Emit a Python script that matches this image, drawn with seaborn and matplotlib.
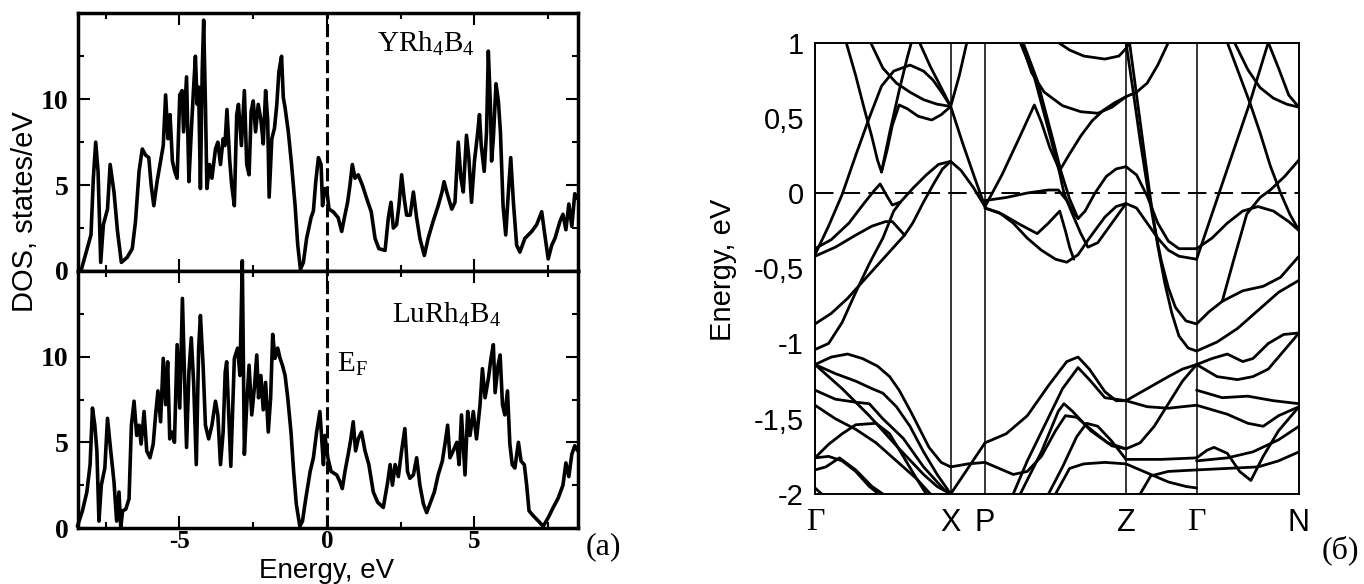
import numpy as np
import pandas as pd
import matplotlib
matplotlib.use("Agg")
import matplotlib.pyplot as plt
import seaborn as sns

sns.set_style("ticks", rc={"axes.edgecolor": "black", "xtick.color": "black",
                           "ytick.color": "black", "text.color": "black",
                           "axes.labelcolor": "black"})
plt.rcParams["font.family"] = ["Liberation Sans", "DejaVu Sans"]
plt.rcParams["mathtext.fontset"] = "custom"
plt.rcParams["mathtext.rm"] = "Liberation Serif"
plt.rcParams["mathtext.it"] = "Liberation Serif:italic"

# ---------------- DOS data (energy in eV, DOS in states/eV) ----------------
energy_y = [-8.46, -8.34, -8.0, -7.92, -7.84, -7.76, -7.67, -7.58, -7.44, -7.35, -7.22, -7.1,
            -6.97, -6.77, -6.6, -6.49, -6.37, -6.26, -6.15, -6.04, -5.96, -5.87, -5.76, -5.64,
            -5.55, -5.47, -5.39, -5.32, -5.24, -5.16, -5.08, -4.99, -4.91, -4.86, -4.76, -4.68,
            -4.6, -4.53, -4.46, -4.4, -4.35, -4.29, -4.23, -4.18, -4.12, -4.07, -3.98, -3.9,
            -3.78, -3.7, -3.61, -3.52, -3.46, -3.39, -3.3, -3.23, -3.14, -3.06, -3.0, -2.9,
            -2.8, -2.72, -2.64, -2.57, -2.5, -2.42, -2.33, -2.24, -2.16, -2.08, -2.01, -1.96,
            -1.87, -1.78, -1.7, -1.63, -1.54, -1.48, -1.42, -1.31, -1.2, -1.08, -0.99, -0.9,
            -0.8, -0.69, -0.54, -0.46, -0.38, -0.29, -0.2, -0.15, -0.08, 0.0, 0.07, 0.21,
            0.38, 0.5, 0.59, 0.7, 0.78, 0.86, 0.95, 1.06, 1.2, 1.35, 1.5, 1.63,
            1.76, 1.97, 2.08, 2.17, 2.25, 2.36, 2.44, 2.53, 2.62, 2.7, 2.82, 2.93,
            3.04, 3.15, 3.3, 3.43, 3.6, 3.77, 3.9, 3.97, 4.06, 4.23, 4.34, 4.45,
            4.54, 4.62, 4.73, 4.81, 4.9, 5.0, 5.1, 5.17, 5.23, 5.33, 5.41, 5.47,
            5.54, 5.58, 5.64, 5.73, 5.81, 5.88, 5.97, 6.06, 6.15, 6.23, 6.32, 6.43,
            6.54, 6.71, 6.94, 7.11, 7.28, 7.37, 7.5, 7.62, 7.73, 7.9, 8.0, 8.1,
            8.2, 8.3, 8.4, 8.5]
dos_y = [0.0, 0.0, 2.1, 5.4, 7.5, 5.8, 0.5, 2.7, 3.6, 6.2, 4.6, 2.3,
         0.5, 0.8, 1.3, 2.9, 5.8, 7.1, 6.75, 6.6, 5.0, 3.8, 5.2, 6.4,
         7.3, 10.25, 7.7, 9.1, 6.4, 5.8, 5.4, 10.25, 10.5, 8.1, 11.3, 5.2,
         8.1, 10.4, 12.5, 9.7, 10.7, 4.8, 11.6, 14.6, 9.7, 4.8, 6.2, 5.4,
         7.1, 7.5, 6.2, 7.7, 7.3, 9.4, 6.5, 5.0, 3.8, 9.1, 9.7, 7.3,
         10.5, 6.2, 5.6, 9.3, 9.9, 8.1, 9.7, 8.8, 7.4, 10.5, 8.8, 4.3,
         7.7, 8.3, 9.7, 11.6, 12.5, 10.1, 9.5, 8.1, 6.2, 3.8, 1.5, 0.1,
         0.5, 1.9, 3.1, 3.5, 5.2, 6.6, 6.2, 3.8, 4.8, 4.6, 3.6, 3.45,
         3.1, 2.3, 3.1, 4.0, 5.0, 6.2, 5.4, 5.6, 5.0, 4.2, 3.45, 1.9,
         1.3, 1.2, 3.1, 4.0, 2.5, 2.7, 3.8, 5.6, 4.2, 3.25, 3.25, 4.6,
         3.1, 1.9, 0.9, 1.9, 2.9, 3.8, 4.6, 5.2, 4.6, 3.6, 4.0, 7.5,
         5.4, 4.6, 7.9, 6.6, 4.0, 6.4, 7.9, 9.1, 7.3, 5.8, 8.1, 12.8,
         9.7, 6.4, 7.7, 10.9, 9.9, 8.1, 3.8, 2.1, 4.6, 6.6, 4.0, 1.5,
         1.1, 1.9, 2.3, 2.7, 3.45, 2.3, 0.7, 1.5, 1.9, 2.9, 3.3, 2.4,
         3.9, 2.6, 4.5, 4.2]

energy_lu = [-8.46, -8.29, -8.14, -8.03, -7.95, -7.87, -7.8, -7.73, -7.65, -7.53, -7.44, -7.33,
             -7.22, -7.13, -7.05, -6.99, -6.93, -6.82, -6.71, -6.63, -6.54, -6.45, -6.37, -6.3,
             -6.2, -6.11, -6.0, -5.89, -5.81, -5.73, -5.64, -5.55, -5.47, -5.4, -5.33, -5.25,
             -5.17, -5.08, -4.99, -4.9, -4.83, -4.76, -4.68, -4.6, -4.52, -4.43, -4.35, -4.29,
             -4.2, -4.12, -4.01, -3.9, -3.78, -3.7, -3.61, -3.52, -3.45, -3.4, -3.26, -3.14,
             -3.03, -2.95, -2.87, -2.8, -2.72, -2.64, -2.55, -2.46, -2.38, -2.32, -2.24, -2.16,
             -2.08, -1.99, -1.91, -1.84, -1.76, -1.67, -1.59, -1.51, -1.42, -1.33, -1.22, -1.13,
             -1.04, -0.92, -0.83, -0.72, -0.57, -0.46, -0.35, -0.24, -0.18, -0.12, -0.07, 0.03,
             0.14, 0.33, 0.44, 0.52, 0.61, 0.72, 0.81, 0.89, 0.97, 1.06, 1.17, 1.29,
             1.42, 1.57, 1.72, 1.91, 2.06, 2.14, 2.22, 2.31, 2.42, 2.53, 2.64, 2.73,
             2.81, 2.93, 3.04, 3.15, 3.27, 3.38, 3.49, 3.64, 3.77, 3.91, 4.0, 4.09,
             4.17, 4.28, 4.4, 4.48, 4.56, 4.68, 4.77, 4.85, 4.96, 5.07, 5.19, 5.27,
             5.36, 5.47, 5.56, 5.64, 5.7, 5.8, 5.87, 5.95, 6.03, 6.12, 6.2, 6.28,
             6.37, 6.49, 6.58, 6.69, 6.77, 6.85, 7.0, 7.17, 7.33, 7.5, 7.67, 7.84,
             8.0, 8.1, 8.2, 8.3, 8.4, 8.5]
dos_lu = [0.1, 1.0, 2.1, 3.7, 7.0, 6.0, 4.5, 0.4, 2.5, 3.5, 6.4, 4.5,
          2.7, 0.4, 2.1, 0.0, 1.0, 1.1, 1.7, 6.0, 7.4, 5.4, 6.0, 4.9,
          6.8, 4.5, 4.1, 4.9, 6.6, 8.0, 6.2, 9.9, 7.2, 9.7, 5.2, 5.6,
          5.0, 10.7, 7.0, 13.4, 8.9, 4.7, 9.1, 11.1, 8.5, 3.7, 10.5, 12.4,
          9.5, 6.0, 5.2, 6.0, 7.4, 6.6, 3.7, 5.6, 9.1, 9.7, 3.6, 9.9,
          10.5, 8.9, 15.6, 4.3, 7.2, 9.5, 6.6, 8.2, 10.1, 7.6, 8.9, 6.9,
          8.5, 5.6, 7.6, 11.3, 9.9, 10.5, 9.9, 9.5, 8.9, 7.6, 5.6, 3.3,
          1.4, 0.1, 0.4, 1.7, 3.3, 4.1, 5.6, 6.8, 5.2, 3.7, 5.4, 4.1,
          3.3, 3.1, 2.7, 2.3, 3.3, 4.3, 5.2, 6.2, 4.5, 5.2, 5.6, 4.5,
          3.7, 2.1, 1.5, 1.2, 2.7, 3.7, 2.5, 3.7, 3.0, 4.5, 5.8, 3.3,
          2.9, 3.1, 4.1, 2.5, 1.4, 0.9, 1.4, 2.1, 3.1, 3.9, 4.9, 6.0,
          4.1, 4.5, 5.0, 3.7, 6.6, 3.1, 6.8, 5.4, 6.8, 5.2, 7.2, 9.3,
          7.6, 8.7, 9.9, 10.7, 7.9, 9.5, 10.1, 7.2, 6.6, 8.0, 4.9, 3.7,
          3.5, 5.0, 3.9, 3.7, 2.5, 1.0, 0.7, 0.4, 0.1, 0.6, 1.2, 1.75,
          2.5, 3.8, 3.0, 4.3, 4.8, 4.5]

dos_xticks = [-5, 0, 5]
dos_xticklabels = ["-5", "0", "5"]
dos_yticks = [0, 5, 10]

# ---------------- band structure ----------------
kpath_labels = ["Γ", "X", "P", "Z", "Γ", "N"]
kpath_pos = [0.0, 1.357, 1.70, 3.11, 3.816, 4.84]
energy_ticks = [1, 0.5, 0, -0.5, -1, -1.5, -2]
energy_ticklabels = ["1", "0,5", "0", "-0,5", "-1", "-1,5", "-2"]

# each branch: (fraction along the path segment, energy in eV)
bands_gamma_x = [
    [(0, -0.41), (0.1, -0.22), (0.2, -0.01), (0.3, 0.25), (0.4, 0.5), (0.49, 0.71), (0.58, 0.81),
     (0.7, 0.85), (0.8, 0.81), (0.87, 0.75), (0.94, 0.66), (1, 0.575)],
    [(0.23, 1.0), (0.3, 0.78), (0.36, 0.57), (0.42, 0.37), (0.46, 0.22), (0.49, 0.14)],
    [(0.49, 0.14), (0.53, 0.28), (0.57, 0.45), (0.62, 0.585), (0.68, 0.56), (0.76, 0.51),
     (0.86, 0.485), (0.93, 0.52), (1, 0.575)],
    [(0.49, 0.14), (0.55, 0.4), (0.62, 0.68), (0.68, 0.9), (0.71, 1.0)],
    [(0.41, 1.0), (0.5, 0.83), (0.6, 0.73), (0.7, 0.67), (0.8, 0.62), (0.9, 0.59), (1, 0.575)],
    [(0.77, 1.0), (0.85, 0.84), (0.93, 0.7), (1, 0.575)],
    [(0, -0.37), (0.12, -0.31), (0.25, -0.2), (0.36, -0.07), (0.44, 0.02), (0.48, 0.06),
     (0.53, -0.02), (0.57, -0.08), (0.63, -0.06), (0.72, 0.03), (0.82, 0.12), (0.91, 0.19), (1, 0.21)],
    [(0, -0.42), (0.15, -0.36), (0.3, -0.28), (0.42, -0.22), (0.52, -0.19), (0.57, -0.19),
     (0.66, -0.28), (0.72, -0.2), (0.8, -0.06), (0.88, 0.07), (0.94, 0.16), (1, 0.21)],
    [(0, -0.87), (0.12, -0.8), (0.24, -0.7), (0.36, -0.58), (0.48, -0.46), (0.58, -0.36), (0.66, -0.28)],
    [(0, -1.04), (0.1, -1.0), (0.2, -0.86), (0.3, -0.66), (0.4, -0.47), (0.5, -0.3), (0.58, -0.12),
     (0.63, -0.06)],
    [(0, -1.14), (0.12, -1.09), (0.24, -1.07), (0.35, -1.1), (0.46, -1.15), (0.55, -1.22),
     (0.62, -1.31), (0.71, -1.46), (0.84, -1.69), (0.93, -1.79), (1, -1.82)],
    [(0, -1.14), (0.15, -1.2), (0.3, -1.25), (0.42, -1.3), (0.5, -1.33), (0.6, -1.42), (0.7, -1.55),
     (0.8, -1.72), (0.9, -1.87), (1, -2.0)],
    [(0, -1.14), (0.2, -1.3), (0.4, -1.48), (0.6, -1.68), (0.8, -1.87), (0.9, -1.95), (1, -2.0)],
    [(0, -1.31), (0.15, -1.37), (0.3, -1.39), (0.4, -1.4), (0.5, -1.5), (0.65, -1.63), (0.8, -1.82),
     (0.95, -1.97), (1, -2.0)],
    [(0, -1.41), (0.15, -1.5), (0.3, -1.57), (0.45, -1.66), (0.6, -1.78), (0.75, -1.9), (0.85, -2.0)],
    [(0, -1.76), (0.1, -1.67), (0.2, -1.6), (0.3, -1.54), (0.45, -1.53), (0.55, -1.6), (0.65, -1.75),
     (0.75, -1.9), (0.82, -2.0)],
    [(0, -1.76), (0.1, -1.75), (0.2, -1.78), (0.3, -1.85), (0.4, -1.95), (0.47, -2.0)],
    [(0, -1.84), (0.08, -1.82), (0.18, -1.76), (0.3, -1.84), (0.42, -1.95), (0.5, -2.0)],
    [(0, -1.96), (0.05, -2.0)],
]
bands_x_p = [
    [(0, 0.575), (0.25, 0.78), (0.47, 1.0)],
    [(0, 0.575), (0.35, 0.33), (0.7, 0.1), (1, -0.09)],
    [(0, 0.21), (0.3, 0.15), (0.65, 0.04), (1, -0.09)],
    [(0, -1.82), (0.5, -1.8), (1, -1.79)],
    [(0, -2.0), (0.5, -1.83), (1, -1.66)],
]
bands_p_z = [
    [(0, -0.09), (0.12, 0.12), (0.24, 0.36), (0.35, 0.585), (0.4, 0.47), (0.46, 0.3), (0.53, 0.15),
     (0.6, 0.26), (0.68, 0.38), (0.76, 0.48), (0.84, 0.55), (0.92, 0.6), (1, 0.64)],
    [(0.26, 1.0), (0.33, 0.8), (0.42, 0.67), (0.55, 0.58), (0.68, 0.54), (0.8, 0.53), (0.9, 0.57),
     (1, 0.64)],
    [(0.25, 1.0), (0.35, 0.77), (0.47, 0.35), (0.53, 0.13), (0.56, 0.0), (0.62, -0.14), (0.68, -0.27),
     (0.73, -0.36), (0.8, -0.33), (0.9, -0.2), (1, -0.07)],
    [(0.27, 1.0), (0.37, 0.75), (0.48, 0.36), (0.54, 0.14), (0.6, -0.04), (0.66, -0.17)],
    [(0, -0.05), (0.15, -0.03), (0.3, 0.0), (0.45, 0.02), (0.52, 0.02), (0.58, -0.05), (0.62, -0.12),
     (0.66, -0.17), (0.71, -0.12), (0.78, 0.0), (0.86, 0.11), (0.93, 0.16), (1, 0.175)],
    [(0, -0.1), (0.12, -0.14), (0.25, -0.21), (0.37, -0.27), (0.45, -0.2), (0.53, -0.12),
     (0.57, -0.25), (0.6, -0.36), (0.63, -0.44)],
    [(0, -0.1), (0.1, -0.13), (0.2, -0.2), (0.3, -0.3), (0.4, -0.38), (0.5, -0.44), (0.58, -0.46),
     (0.66, -0.41), (0.74, -0.3), (0.85, -0.16), (0.93, -0.09), (1, -0.07)],
    [(0.52, 1.0), (0.6, 0.95), (0.7, 0.91), (0.85, 0.89), (0.95, 0.91), (1, 0.96)],
    [(0, -1.66), (0.15, -1.6), (0.3, -1.48), (0.45, -1.28), (0.58, -1.12), (0.66, -1.09),
     (0.74, -1.17), (0.85, -1.32), (0.93, -1.38), (1, -1.38)],
    [(0.2, -2.0), (0.3, -1.78), (0.42, -1.55), (0.55, -1.3), (0.66, -1.16), (0.75, -1.25),
     (0.85, -1.36), (1, -1.38)],
    [(0, -1.79), (0.1, -1.83), (0.2, -1.87), (0.3, -1.85), (0.4, -1.75), (0.5, -1.58), (0.57, -1.48),
     (0.65, -1.49), (0.75, -1.57), (0.87, -1.66), (1, -1.7)],
    [(0.45, -2.0), (0.55, -1.82), (0.65, -1.62), (0.72, -1.53), (0.8, -1.55), (0.9, -1.65), (1, -1.77)],
    [(0.5, -2.0), (0.6, -1.83), (0.7, -1.8), (0.85, -1.79), (1, -1.8)],
    [(0.25, -2.0), (0.4, -1.72), (0.52, -1.45), (0.56, -1.4), (0.62, -1.45), (0.75, -1.58),
     (0.9, -1.68), (1, -1.7)],
]
bands_z_gamma = [
    [(0, 0.96), (0.05, 1.0)],
    [(0, 1.0), (0.1, 0.68), (0.2, 0.35), (0.3, 0.05), (0.4, -0.22), (0.5, -0.45), (0.6, -0.63),
     (0.7, -0.76), (0.85, -0.85), (1, -0.87)],
    [(0.05, 1.0), (0.15, 0.65), (0.25, 0.3), (0.35, -0.05), (0.45, -0.35), (0.55, -0.6),
     (0.65, -0.8), (0.75, -0.95), (0.88, -1.03), (1, -1.05)],
    [(0, 0.175), (0.15, 0.12), (0.3, -0.02), (0.45, -0.2), (0.6, -0.32), (0.75, -0.37), (1, -0.37)],
    [(0, -0.07), (0.15, -0.1), (0.3, -0.2), (0.45, -0.3), (0.6, -0.38), (0.75, -0.42), (1, -0.44)],
    [(0, 0.64), (0.15, 0.67), (0.3, 0.73), (0.45, 0.85), (0.6, 1.0)],
    [(0, -1.38), (0.3, -1.3), (0.6, -1.22), (0.8, -1.17), (1, -1.14)],
    [(0, -1.38), (0.3, -1.42), (0.6, -1.43), (1, -1.41)],
    [(0, -1.7), (0.2, -1.66), (0.4, -1.55), (0.6, -1.4), (0.8, -1.25), (1, -1.14)],
    [(0, -1.77), (0.5, -1.77), (1, -1.76)],
    [(0, -1.8), (0.3, -1.86), (0.6, -1.92), (0.85, -1.95), (1, -1.96)],
    [(0.2, -2.0), (0.35, -1.88), (0.6, -1.85), (1, -1.84)],
]
bands_gamma_n = [
    [(0, -0.44), (0.12, -0.2), (0.24, 0.04), (0.38, 0.32), (0.52, 0.6), (0.61, 0.8), (0.7, 1.0)],
    [(0.3, 1.0), (0.41, 0.8), (0.52, 0.6), (0.62, 0.4), (0.72, 0.18), (0.82, 0.0), (0.91, -0.14),
     (1, -0.25)],
    [(0.37, 1.0), (0.5, 0.82), (0.62, 0.7), (0.75, 0.63), (0.88, 0.59), (1, 0.57)],
    [(0.7, 1.0), (0.8, 0.83), (0.9, 0.65), (1, 0.57)],
    [(0, -0.37), (0.15, -0.3), (0.3, -0.2), (0.45, -0.12), (0.6, -0.09), (0.75, -0.12), (0.9, -0.19),
     (1, -0.25)],
    [(0.25, -0.72), (0.36, -0.45), (0.49, -0.14), (0.62, -0.03), (0.72, 0.02), (0.86, 0.11), (1, 0.22)],
    [(0, -0.87), (0.12, -0.79), (0.25, -0.72), (0.45, -0.65), (0.65, -0.62), (0.82, -0.56), (1, -0.42)],
    [(0, -1.05), (0.2, -0.99), (0.4, -0.9), (0.6, -0.78), (0.8, -0.66), (1, -0.58)],
    [(0, -1.14), (0.15, -1.1), (0.3, -1.07), (0.45, -1.12), (0.55, -1.1), (0.7, -1.0), (0.85, -0.94),
     (1, -0.93)],
    [(0, -1.14), (0.2, -1.22), (0.4, -1.24), (0.55, -1.22), (0.7, -1.17), (0.85, -1.05), (1, -0.93)],
    [(0, -1.31), (0.25, -1.36), (0.5, -1.35), (0.75, -1.38), (1, -1.4)],
    [(0, -1.41), (0.3, -1.47), (0.5, -1.53), (0.65, -1.55), (0.8, -1.48), (1, -1.42)],
    [(0, -1.76), (0.1, -1.71), (0.17, -1.69), (0.3, -1.73), (0.42, -1.85), (0.53, -1.91),
     (0.65, -1.75), (0.8, -1.58), (1, -1.42)],
    [(0, -1.84), (0.3, -1.83), (0.6, -1.82), (0.8, -1.78), (1, -1.72)],
    [(0, -1.78), (0.3, -1.76), (0.55, -1.72), (0.8, -1.64), (1, -1.55)],
]

# ---------------- assemble long-form tables ----------------
dos_top = pd.DataFrame({"E": energy_y, "DOS": dos_y})
dos_bottom = pd.DataFrame({"E": energy_lu, "DOS": dos_lu})

rows = []
for i, seg in enumerate([bands_gamma_x, bands_x_p, bands_p_z, bands_z_gamma, bands_gamma_n]):
    k0, k1 = kpath_pos[i], kpath_pos[i + 1]
    for j, branch in enumerate(seg):
        for t, e in branch:
            rows.append({"k": k0 + t * (k1 - k0), "E": e, "branch": f"{i}-{j}"})
bands = pd.DataFrame(rows)

# ---------------- figure ----------------
W, H = 1364, 584
fig = plt.figure(figsize=(W / 100, H / 100), dpi=100)


def px_rect(x0, y0, x1, y1):
    return [x0 / W, 1 - y1 / H, (x1 - x0) / W, (y1 - y0) / H]


ax_top = fig.add_axes(px_rect(78, 13.3, 578, 271))
ax_bot = fig.add_axes(px_rect(78, 271, 578, 528))
ax_bs = fig.add_axes(px_rect(815, 42.5, 1299, 494))

serif_bold = {"family": "Liberation Serif", "weight": "bold", "size": 20}

for ax, data, lbl, lbl_xy in [(ax_top, dos_top, "YRh$_{4}$B$_{4}$", (1.69, 12.73)),
                              (ax_bot, dos_bottom, "LuRh$_{4}$B$_{4}$", (2.19, 12.0))]:
    sns.lineplot(data=data, x="E", y="DOS", ax=ax, color="black", linewidth=2.6,
                 sort=False, clip_on=(ax is ax_top))
    ax.axvline(0, color="black", linewidth=2.2, linestyle=(0, (4.3, 1.6)))
    ax.set_xlim(-8.44, 8.51)
    ax.set_ylim(0, 15.0)
    ax.set_xticks(dos_xticks)
    ax.set_xticks([-7.5, -2.5, 2.5, 7.5], minor=True)
    ax.set_yticks(dos_yticks)
    ax.set_yticks([2.5, 7.5, 12.5], minor=True)
    ax.set_yticklabels([str(v) for v in dos_yticks], fontdict=serif_bold)
    ax.tick_params(which="both", direction="in", top=True, right=True, width=1.5)
    ax.tick_params(which="major", length=8.5, pad=7)
    ax.tick_params(which="minor", length=4.3)
    for s in ax.spines.values():
        s.set_linewidth(2.5)
    ax.set_xlabel("")
    ax.set_ylabel("")
    ax.text(lbl_xy[0], lbl_xy[1], lbl, family="Liberation Serif", fontsize=21, va="baseline")

ax_top.set_xticklabels([])
ax_bot.set_xticklabels(dos_xticklabels, fontdict={**serif_bold, "size": 18})
ax_bot.tick_params(axis="x", which="major", pad=1.5)
ax_bot.text(0.33, 9.1, "E$_{\\mathrm{F}}$", family="Liberation Serif", fontsize=21, va="baseline")

fig.text(25 / W, 1 - 212 / H, "DOS, states/eV", rotation=90, ha="center", va="center", fontsize=21)
fig.text(327 / W, 1 - 578 / H, "Energy, eV", ha="center", va="baseline", fontsize=20)
fig.text(603 / W, 1 - 547 / H, "(a)", ha="center", va="center", fontsize=23,
         family="Liberation Serif")

# band structure panel
sns.lineplot(data=bands, x="k", y="E", units="branch", estimator=None, sort=False,
             color="black", linewidth=2.0, ax=ax_bs, legend=False)
for kx in kpath_pos[1:-1]:
    ax_bs.axvline(kx, color="black", linewidth=1.1)
ax_bs.axhline(0, color="black", linewidth=1.4, linestyle=(0, (9.5, 4.2)))
ax_bs.set_xlim(kpath_pos[0], kpath_pos[-1])
ax_bs.set_ylim(-2, 1)
ax_bs.set_yticks(energy_ticks)
ax_bs.set_yticklabels(energy_ticklabels, fontsize=21)
ax_bs.set_xticks(kpath_pos)
ax_bs.set_xticklabels(kpath_labels, fontsize=22)
for t in ax_bs.get_xticklabels():
    if t.get_text() == "Γ":
        t.set_family("Liberation Serif")
        t.set_fontsize(23)
ax_bs.tick_params(axis="both", length=0)
ax_bs.tick_params(axis="y", pad=8)
ax_bs.tick_params(axis="x", pad=10)
for s in ax_bs.spines.values():
    s.set_linewidth(1.4)
ax_bs.set_xlabel("")
ax_bs.set_ylabel("")
fig.text(723 / W, 1 - 270 / H, "Energy, eV", rotation=90, ha="center", va="center", fontsize=21)
fig.text(1340 / W, 1 - 550 / H, "(б)", ha="center", va="center", fontsize=23,
         family="Liberation Serif")

fig.savefig("out.png", dpi=100)
